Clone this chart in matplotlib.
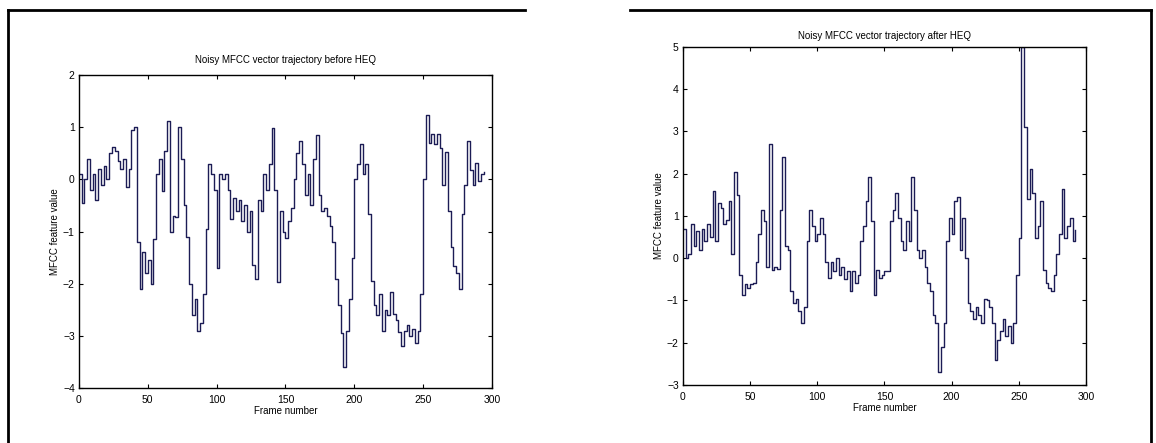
import numpy as np
import matplotlib
matplotlib.use('Agg')
import matplotlib.pyplot as plt
from matplotlib.lines import Line2D

# MFCC trajectory, one value every 2 frames
before_heq = [0.1, -0.45, 0.0, 0.4, -0.2, 0.1, -0.4, 0.2, -0.1, 0.25,
              0.0, 0.5, 0.62, 0.55, 0.35, 0.2, 0.4, -0.15, 0.2, 0.95,
              1.0, -1.2, -2.1, -1.4, -1.8, -1.55, -2.0, -1.15, 0.1, 0.4,
              -0.23, 0.55, 1.12, -1.0, -0.7, -0.72, 1.0, 0.4, -0.5, -1.1,
              -2.0, -2.6, -2.3, -2.9, -2.75, -2.2, -0.95, 0.3, 0.1, -0.2,
              -1.7, 0.1, 0.0, 0.1, -0.2, -0.75, -0.35, -0.6, -0.4, -0.8,
              -0.5, -1.0, -0.6, -1.65, -1.9, -0.4, -0.6, 0.1, -0.2, 0.3,
              0.98, -0.2, -1.96, -0.6, -1.0, -1.12, -0.8, -0.55, 0.0, 0.5,
              0.74, 0.3, -0.3, 0.1, -0.5, 0.4, 0.85, -0.3, -0.6, -0.55,
              -0.7, -0.9, -1.2, -1.9, -2.4, -2.95, -3.6, -2.9, -2.3, -1.5,
              0.0, 0.3, 0.67, 0.1, 0.3, -0.67, -1.94, -2.4, -2.6, -2.2,
              -2.9, -2.5, -2.6, -2.15, -2.58, -2.7, -2.93, -3.2, -2.9, -2.8,
              -3.0, -2.86, -3.14, -2.9, -2.2, 0.0, 1.24, 0.7, 0.88, 0.67,
              0.88, 0.6, -0.1, 0.53, -0.6, -1.3, -1.66, -1.8, -2.1, -0.67,
              -0.1, 0.74, 0.18, -0.1, 0.32, -0.03, 0.1, 0.14]

after_heq = [0.7, 0.0, 0.1, 0.8, 0.3, 0.65, 0.2, 0.7, 0.4, 0.8,
             0.5, 1.6, 0.4, 1.3, 1.2, 0.8, 0.9, 1.35, 0.1, 2.05,
             1.5, -0.4, -0.87, -0.6, -0.7, -0.6, -0.58, -0.1, 0.58, 1.15,
             0.87, -0.2, 2.7, -0.29, -0.2, -0.25, 1.15, 2.4, 0.3, 0.2,
             -0.77, -1.06, -0.96, -1.25, -1.54, -1.15, 0.4, 1.15, 0.77, 0.4,
             0.58, 0.96, 0.58, -0.1, -0.48, -0.1, -0.3, 0.0, -0.4, -0.2,
             -0.5, -0.3, -0.77, -0.3, -0.58, -0.4, 0.4, 0.77, 1.35, 1.93,
             0.87, -0.87, -0.29, -0.48, -0.4, -0.3, -0.3, 0.87, 1.15, 1.55,
             0.96, 0.4, 0.2, 0.87, 0.4, 1.93, 1.15, 0.2, 0.0, 0.2,
             -0.2, -0.58, -0.77, -1.35, -1.54, -2.7, -2.1, -1.54, 0.4, 0.96,
             0.58, 1.35, 1.45, 0.2, 0.96, 0.0, -1.06, -1.25, -1.45, -1.15,
             -1.35, -1.54, -0.96, -1.0, -1.15, -1.54, -2.4, -1.93, -1.73, -1.45,
             -1.83, -1.6, -2.0, -1.54, -0.4, 0.48, 5.0, 3.1, 1.4, 2.1,
             1.55, 0.48, 0.77, 1.35, -0.29, -0.58, -0.7, -0.77, -0.4, 0.1,
             0.58, 1.64, 0.48, 0.77, 0.96, 0.4, 0.67]

titles = ['Noisy MFCC vector trajectory before HEQ',
          'Noisy MFCC vector trajectory after HEQ']
x_ticks = [0, 50, 100, 150, 200, 250, 300]
y_ticks_before = [-4, -3, -2, -1, 0, 1, 2]
y_ticks_after = [-3, -2, -1, 0, 1, 2, 3, 4, 5]

plt.rcParams['font.family'] = ['Liberation Sans', 'DejaVu Sans']
LINE = '#1c1c55'

fig = plt.figure(figsize=(11.56, 4.43), dpi=100)

ax1 = fig.add_axes([0.0683, 0.124, 0.3573, 0.7065])
ax2 = fig.add_axes([0.5908, 0.131, 0.3486, 0.763])

panels = [(ax1, before_heq, y_ticks_before, titles[0], 9),
          (ax2, after_heq, y_ticks_after, titles[1], 6)]

for ax, vals, yt, title, tpad in panels:
    frames = np.arange(len(vals)) * 2
    ax.plot(frames, vals, color=LINE, lw=1.0, drawstyle='steps-post')
    ax.set_xlim(0, 300)
    ax.set_ylim(yt[0], yt[-1])
    ax.set_xticks(x_ticks)
    ax.set_yticks(yt)
    ax.tick_params(direction='in', top=True, right=True, length=3,
                   width=0.8, labelsize=7.5)
    ax.tick_params(axis='x', pad=5)
    ax.tick_params(axis='y', pad=3)
    for s in ax.spines.values():
        s.set_linewidth(1.0)
    ax.set_title(title, fontsize=7, pad=tpad)
    ax.set_xlabel('Frame number', fontsize=7, labelpad=1)
    ax.set_ylabel('MFCC feature value', fontsize=7, labelpad=2)

# scanned frame around the figure (open at the bottom)
for xs, ys in [([8, 525], [10, 10]), ([630, 1151], [10, 10]),
               ([8, 8], [10, 443]), ([1151, 1151], [10, 443])]:
    fig.add_artist(Line2D(np.array(xs) / 1156, 1 - np.array(ys) / 443,
                          color='black', lw=2.0))

fig.savefig('out.png', dpi=100)
